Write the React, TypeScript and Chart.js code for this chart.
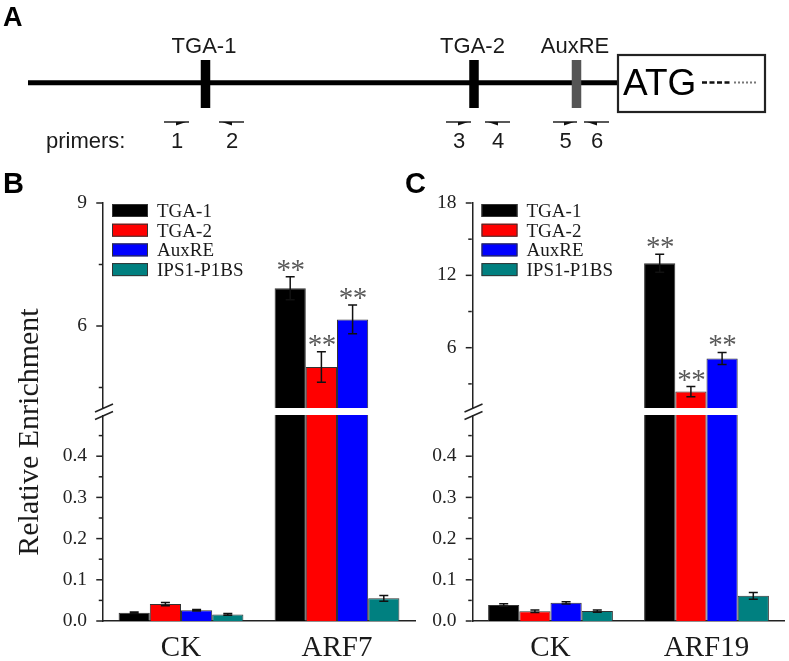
import React, { useEffect, useRef } from 'react';
import { Chart, registerables } from 'chart.js';

Chart.register(...registerables);

const SERIF = '"Liberation Serif", "Times New Roman", serif';
const SANS = '"Liberation Sans", Arial, sans-serif';

// ---------- Panel A: promoter schematic (diagram units along the promoter) ----------
const promoterSpan = [28, 618];
const elementNames = ['TGA-1', 'TGA-2', 'AuxRE'];
const elementPositions = [205.5, 474, 576.5];
const elementColors = ['#000000', '#000000', '#555555'];
const primerNames = ['1', '2', '3', '4', '5', '6'];
const primerStarts = [164, 219, 446, 485, 553, 584];
const primerEnds = [189, 244, 471, 510, 577, 609];
const primerDirections = [1, -1, 1, -1, 1, -1];
const atgBoxSpan = [618, 765];
const atgLabel = 'ATG';
const primersLabel = 'primers:';

// ---------- Panels B and C: ChIP enrichment ----------
const seriesNames = ['TGA-1', 'TGA-2', 'AuxRE', 'IPS1-P1BS'];
const seriesColors = ['#000000', '#ff0000', '#0000ff', '#008080'];
const yAxisTitle = 'Relative Enrichment';

// Panel B (ARF7)
const categoriesB = ['CK', 'ARF7'];
const tga1B = [0.020, 6.92];
const tga2B = [0.041, 5.0];
const auxreB = [0.026, 6.16];
const ips1B = [0.016, 0.055];
const tga1ErrB = [0.002, 0.28];
const tga2ErrB = [0.004, 0.37];
const auxreErrB = [0.002, 0.35];
const ips1ErrB = [0.002, 0.007];
const signifB = [[false, true], [false, true], [false, true], [false, false]];
const upperRangeB = [4, 9];
const upperTicksB = [4.5, 6, 7.5, 9];
const upperTickLabelsB = ['', '6', '', '9'];

// Panel C (ARF19)
const categoriesC = ['CK', 'ARF19'];
const tga1C = [0.039, 13.0];
const tga2C = [0.0235, 2.36];
const auxreC = [0.044, 5.11];
const ips1C = [0.024, 0.061];
const tga1ErrC = [0.003, 0.75];
const tga2ErrC = [0.003, 0.42];
const auxreErrC = [0.003, 0.5];
const ips1ErrC = [0.003, 0.008];
const signifC = [[false, true], [false, true], [false, true], [false, false]];
const upperRangeC = [1, 18];
const upperTicksC = [3, 6, 9, 12, 15, 18];
const upperTickLabelsC = ['', '6', '', '12', '', '18'];

// shared lower segment of the broken axis
const lowerBreak = 0.5;
const lowerMax = 0.517;
const lowerTicks = [0, 0.05, 0.1, 0.15, 0.2, 0.25, 0.3, 0.35, 0.4, 0.45];
const lowerTickLabels = ['0.0', '', '0.1', '', '0.2', '', '0.3', '', '0.4', ''];

const UPPER_WEIGHT = 205;
const LOWER_WEIGHT = 213;

// ---------- Panel A chart ----------
const schematicPlugin = {
  id: 'schematic',
  afterDraw(chart: any) {
    const ctx = chart.ctx;
    const X = (v: number) => chart.scales.x.getPixelForValue(v);
    const Y = (v: number) => chart.scales.y.getPixelForValue(v);
    ctx.save();
    // panel letter
    ctx.fillStyle = '#000';
    ctx.font = `bold 27px ${SANS}`;
    ctx.textAlign = 'left';
    ctx.textBaseline = 'alphabetic';
    ctx.fillText('A', X(3), Y(26));

    // main promoter line
    ctx.strokeStyle = '#000';
    ctx.lineWidth = 5;
    ctx.beginPath();
    ctx.moveTo(X(promoterSpan[0]), Y(82.7));
    ctx.lineTo(X(promoterSpan[1]), Y(82.7));
    ctx.stroke();

    // cis elements
    elementNames.forEach((name, i) => {
      const cx = X(elementPositions[i]);
      ctx.fillStyle = elementColors[i];
      ctx.fillRect(cx - 4.75, Y(60), 9.5, Y(108) - Y(60));
      ctx.fillStyle = '#1a1a1a';
      ctx.font = `22px ${SANS}`;
      ctx.textAlign = 'center';
      ctx.fillText(name, cx - 1.5, Y(53));
    });

    // ATG box
    const bx0 = X(atgBoxSpan[0]);
    const bx1 = X(atgBoxSpan[1]);
    ctx.fillStyle = '#fff';
    ctx.fillRect(bx0, Y(55), bx1 - bx0, Y(112) - Y(55));
    ctx.strokeStyle = '#222';
    ctx.lineWidth = 2.2;
    ctx.strokeRect(bx0, Y(55), bx1 - bx0, Y(112) - Y(55));
    ctx.fillStyle = '#000';
    ctx.font = `37px ${SANS}`;
    ctx.textAlign = 'left';
    ctx.fillText(atgLabel, bx0 + 5, Y(95));
    ctx.strokeStyle = '#111';
    ctx.lineWidth = 2.6;
    ctx.setLineDash([5, 2.5]);
    ctx.beginPath();
    ctx.moveTo(bx0 + 84, Y(82.5));
    ctx.lineTo(bx0 + 114, Y(82.5));
    ctx.stroke();
    ctx.strokeStyle = '#777';
    ctx.lineWidth = 2;
    ctx.setLineDash([2, 2]);
    ctx.beginPath();
    ctx.moveTo(bx0 + 116, Y(82.5));
    ctx.lineTo(bx0 + 139, Y(82.5));
    ctx.stroke();
    ctx.setLineDash([]);

    // primers
    ctx.fillStyle = '#1a1a1a';
    ctx.font = `22px ${SANS}`;
    ctx.textAlign = 'left';
    ctx.fillText(primersLabel, X(46), Y(148));
    primerNames.forEach((name, i) => {
      const s = X(primerStarts[i]);
      const e = X(primerEnds[i]);
      const y = Y(122);
      ctx.strokeStyle = '#111';
      ctx.lineWidth = 1.4;
      ctx.beginPath();
      ctx.moveTo(s, y);
      ctx.lineTo(e, y);
      ctx.stroke();
      ctx.fillStyle = '#111';
      ctx.beginPath();
      if (primerDirections[i] > 0) {
        const tip = e - 3;
        ctx.moveTo(tip, y);
        ctx.lineTo(tip - 10, y);
        ctx.lineTo(tip - 10, y + 3.5);
      } else {
        const tip = s + 3;
        ctx.moveTo(tip, y);
        ctx.lineTo(tip + 10, y);
        ctx.lineTo(tip + 10, y + 3.5);
      }
      ctx.closePath();
      ctx.fill();
      ctx.fillStyle = '#1a1a1a';
      ctx.textAlign = 'center';
      ctx.fillText(name, (s + e) / 2 + 0.5, Y(148));
    });
    ctx.restore();
  },
};

function SchematicChart() {
  const ref = useRef<HTMLCanvasElement>(null);
  useEffect(() => {
    const chart = new Chart(ref.current as HTMLCanvasElement, {
      type: 'scatter',
      data: { datasets: [] },
      options: {
        responsive: false,
        animation: false,
        layout: { padding: 0 },
        plugins: { legend: { display: false }, tooltip: { enabled: false } },
        scales: {
          x: { type: 'linear', min: 0, max: 789, display: false },
          y: { type: 'linear', min: 0, max: 160, reverse: true, display: false },
        },
      } as any,
      plugins: [schematicPlugin],
    });
    return () => chart.destroy();
  }, []);
  return <canvas ref={ref} width={789} height={160} style={{ position: 'absolute', left: 0, top: 0 }} />;
}

// ---------- Panels B / C chart ----------
type PanelProps = {
  letter: string;
  categories: string[];
  values: number[][];
  errors: number[][];
  signif: boolean[][];
  upperRange: number[];
  upperTicks: number[];
  upperTickLabels: string[];
  showTitle: boolean;
  left: number;
  width: number;
  axisWidth: number;
  rightPad: number;
};

function makePanelPlugin(p: PanelProps) {
  return {
    id: 'panelDeco',
    afterDatasetsDraw(chart: any) {
      const ctx = chart.ctx;
      const yUp = chart.scales.yUp;
      const yLow = chart.scales.yLow;
      const area = chart.chartArea;
      const n = p.values.length;
      ctx.save();
      // error bars
      ctx.strokeStyle = '#111';
      ctx.lineWidth = 1.5;
      p.values.forEach((vals, i) => {
        vals.forEach((v, j) => {
          const upper = v > p.upperRange[0];
          const meta = chart.getDatasetMeta(upper ? i : i + n);
          const bar = meta.data[j];
          if (!bar) return;
          const sc = upper ? yUp : yLow;
          const e = p.errors[i][j];
          const yT = sc.getPixelForValue(v + e);
          const yB = sc.getPixelForValue(v - e);
          const x = bar.x;
          const cap = 4.5;
          ctx.beginPath();
          ctx.moveTo(x, yT);
          ctx.lineTo(x, yB);
          ctx.moveTo(x - cap, yT);
          ctx.lineTo(x + cap, yT);
          ctx.moveTo(x - cap, yB);
          ctx.lineTo(x + cap, yB);
          ctx.stroke();
        });
      });
      // gap of the broken axis
      const gapTop = yUp.bottom;
      const gapBottom = yLow.getPixelForValue(lowerBreak);
      ctx.fillStyle = '#ffffff';
      ctx.fillRect(area.left - 4, gapTop, area.right - area.left + 4, gapBottom - gapTop);
      // break marks
      const cx = area.left + 1;
      ctx.strokeStyle = '#222';
      ctx.lineWidth = 1.5;
      [gapTop, gapBottom + 0.5].forEach((cy) => {
        ctx.beginPath();
        ctx.moveTo(cx - 9, cy + 4);
        ctx.lineTo(cx + 9, cy - 4);
        ctx.stroke();
      });
      // significance stars
      ctx.fillStyle = '#5a5a5a';
      ctx.font = `29px ${SERIF}`;
      ctx.textAlign = 'center';
      ctx.textBaseline = 'alphabetic';
      p.values.forEach((vals, i) => {
        vals.forEach((v, j) => {
          if (!p.signif[i][j]) return;
          const upper = v > p.upperRange[0];
          const meta = chart.getDatasetMeta(upper ? i : i + n);
          const bar = meta.data[j];
          if (!bar) return;
          const sc = upper ? yUp : yLow;
          const yT = sc.getPixelForValue(v + p.errors[i][j]);
          ctx.fillText('*', bar.x - 6.5, yT + 2);
          ctx.fillText('*', bar.x + 7.5, yT + 2);
        });
      });
      ctx.restore();
    },
    afterDraw(chart: any) {
      const ctx = chart.ctx;
      const area = chart.chartArea;
      const axisX = area.left - 0.75;
      ctx.save();
      // tick marks (major and minor)
      ctx.strokeStyle = '#222';
      ctx.lineWidth = 1.5;
      const drawTicks = (scale: any, labels: string[]) => {
        scale.ticks.forEach((t: any, k: number) => {
          const y = scale.getPixelForTick(k);
          const len = labels[k] ? 6 : 3.5;
          ctx.beginPath();
          ctx.moveTo(axisX - len, y);
          ctx.lineTo(axisX, y);
          ctx.stroke();
        });
      };
      drawTicks(chart.scales.yUp, p.upperTickLabels);
      drawTicks(chart.scales.yLow, lowerTickLabels);
      // legend
      const lx = area.left + 9;
      const ly0 = area.top + 1;
      seriesNames.forEach((name, i) => {
        const y = ly0 + i * 19.7;
        ctx.fillStyle = seriesColors[i];
        ctx.fillRect(lx, y, 36, 13);
        ctx.strokeStyle = '#333';
        ctx.lineWidth = 1;
        ctx.strokeRect(lx + 0.5, y + 0.5, 35, 12);
        ctx.fillStyle = '#1a1a1a';
        ctx.font = `19px ${SERIF}`;
        ctx.textAlign = 'left';
        ctx.textBaseline = 'alphabetic';
        ctx.fillText(name, lx + 45, y + 13);
      });
      // y axis title
      if (p.showTitle) {
        ctx.save();
        ctx.translate(38, 272);
        ctx.rotate(-Math.PI / 2);
        ctx.fillStyle = '#1a1a1a';
        ctx.font = `30px ${SERIF}`;
        ctx.textAlign = 'center';
        ctx.textBaseline = 'alphabetic';
        ctx.fillText(yAxisTitle, 0, 0);
        ctx.restore();
      }
      // panel letter
      ctx.fillStyle = '#000';
      ctx.font = `bold 29px ${SANS}`;
      ctx.textAlign = 'left';
      ctx.textBaseline = 'alphabetic';
      ctx.fillText(p.letter, p.letter === 'B' ? 3 : 5, 33);
      ctx.restore();
    },
  };
}

function BrokenBarPanel(p: PanelProps) {
  const ref = useRef<HTMLCanvasElement>(null);
  useEffect(() => {
    const upperSets = p.values.map((vals, i) => ({
      label: seriesNames[i],
      data: vals.map((v) => (v > p.upperRange[0] ? v : null)),
      backgroundColor: seriesColors[i],
      borderColor: '#333',
      borderWidth: 1,
      yAxisID: 'yUp',
      stack: seriesNames[i],
      categoryPercentage: 0.8,
      barPercentage: 1.0,
    }));
    const lowerSets = p.values.map((vals, i) => ({
      label: seriesNames[i] + ' (low)',
      data: vals.map((v) => Math.min(v, lowerMax)),
      backgroundColor: seriesColors[i],
      borderColor: '#333',
      borderWidth: 1,
      yAxisID: 'yLow',
      stack: seriesNames[i],
      categoryPercentage: 0.8,
      barPercentage: 1.0,
    }));
    const fixW = (s: any) => { s.width = p.axisWidth; };
    const chart = new Chart(ref.current as HTMLCanvasElement, {
      type: 'bar',
      data: { labels: p.categories, datasets: [...upperSets, ...lowerSets] },
      options: {
        responsive: false,
        animation: false,
        layout: { padding: { top: 43, right: p.rightPad, left: 0, bottom: 0 } },
        plugins: { legend: { display: false }, tooltip: { enabled: false } },
        scales: {
          x: {
            type: 'category',
            grid: { display: false, drawTicks: false },
            border: { display: true, color: '#222', width: 1.5 },
            ticks: { color: '#1a1a1a', font: { family: SERIF, size: 29 }, padding: 10, autoSkip: false, maxRotation: 0 },
            afterFit: (s: any) => { s.height = 40; },
          },
          yLow: {
            type: 'linear',
            position: 'left',
            stack: 'v',
            stackWeight: LOWER_WEIGHT,
            min: 0,
            max: lowerMax,
            grid: { display: false, drawTicks: false },
            border: { display: true, color: '#222', width: 1.5 },
            afterBuildTicks: (s: any) => { s.ticks = lowerTicks.map((v) => ({ value: v })); },
            ticks: {
              color: '#222',
              font: { family: SERIF, size: 19.5 },
              padding: 16,
              autoSkip: false,
              callback: (_v: any, k: number) => lowerTickLabels[k],
            },
            afterFit: fixW,
          },
          yUp: {
            type: 'linear',
            position: 'left',
            stack: 'v',
            stackWeight: UPPER_WEIGHT,
            min: p.upperRange[0],
            max: p.upperRange[1],
            grid: { display: false, drawTicks: false },
            border: { display: true, color: '#222', width: 1.5 },
            afterBuildTicks: (s: any) => { s.ticks = p.upperTicks.map((v) => ({ value: v })); },
            ticks: {
              color: '#222',
              font: { family: SERIF, size: 19.5 },
              padding: 16,
              autoSkip: false,
              callback: (_v: any, k: number) => p.upperTickLabels[k],
            },
            afterFit: fixW,
          },
        },
      } as any,
      plugins: [makePanelPlugin(p)],
    });
    return () => chart.destroy();
  }, []);
  return (
    <canvas
      ref={ref}
      width={p.width}
      height={501}
      style={{ position: 'absolute', left: p.left, top: 160 }}
    />
  );
}

const panelB: PanelProps = {
  letter: 'B',
  categories: categoriesB,
  values: [tga1B, tga2B, auxreB, ips1B],
  errors: [tga1ErrB, tga2ErrB, auxreErrB, ips1ErrB],
  signif: signifB,
  upperRange: upperRangeB,
  upperTicks: upperTicksB,
  upperTickLabels: upperTickLabelsB,
  showTitle: true,
  left: 0,
  width: 420,
  axisWidth: 103,
  rightPad: 5,
};

const panelC: PanelProps = {
  letter: 'C',
  categories: categoriesC,
  values: [tga1C, tga2C, auxreC, ips1C],
  errors: [tga1ErrC, tga2ErrC, auxreErrC, ips1ErrC],
  signif: signifC,
  upperRange: upperRangeC,
  upperTicks: upperTicksC,
  upperTickLabels: upperTickLabelsC,
  showTitle: false,
  left: 400,
  width: 389,
  axisWidth: 72.5,
  rightPad: 4.5,
};

export default function App() {
  return (
    <div style={{ position: 'fixed', left: 0, top: 0, width: 789, height: 661, background: '#fff', overflow: 'hidden' }}>
      <SchematicChart />
      <BrokenBarPanel {...panelB} />
      <BrokenBarPanel {...panelC} />
    </div>
  );
}
